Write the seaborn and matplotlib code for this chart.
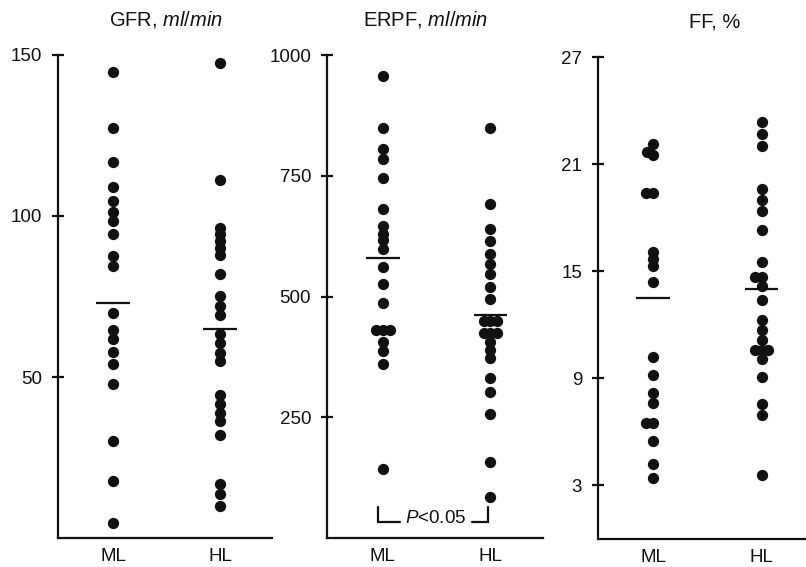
import numpy as np
import pandas as pd
import matplotlib
matplotlib.use("Agg")
import matplotlib.pyplot as plt
import seaborn as sns

# ---------------- data ----------------
groups = ["ML", "HL"]

gfr_ml = [144.7, 127.4, 116.8, 109.1, 104.7, 101.1, 98.3, 94.3, 87.6, 84.5,
          70.0, 64.7, 61.9, 57.9, 53.9, 47.7, 30.0, 17.6, 4.8]
gfr_hl = [147.4, 111.1, 96.4, 94.3, 92.2, 90.2, 87.9, 82.1, 75.2, 72.0, 69.2,
          63.3, 60.7, 57.5, 55.0, 44.3, 41.5, 38.9, 36.3, 31.9, 16.7, 13.6, 10.0]

erpf_ml = [956, 848, 806, 784, 745, 682, 645, 630, 616, 599, 561, 525, 486,
           431, 431, 431, 406, 388, 361, 143]
erpf_hl = [848, 692, 640, 615, 589, 568, 547, 519, 495, 450, 450, 450,
           425, 425, 425, 405, 390, 372, 332, 303, 257, 157, 85]

ff_ml = [22.1, 21.7, 21.5, 19.4, 19.4, 16.1, 15.7, 15.3, 14.4, 10.2, 9.2,
         8.2, 7.6, 6.5, 6.5, 5.5, 4.2, 3.4]
ff_hl = [23.35, 22.7, 22.0, 19.6, 19.0, 18.4, 17.3, 15.5, 14.7, 14.7, 14.2,
         13.4, 12.25, 11.7, 11.15, 10.6, 10.6, 10.6, 10.1, 9.1, 7.55, 6.95, 3.6]

gfr_means = [73.1, 64.9]
erpf_means = [579.5, 461.0]
ff_means = [13.5, 14.0]

gfr_ticks = [50, 100, 150]
erpf_ticks = [250, 500, 750, 1000]
ff_ticks = [3, 9, 15, 21, 27]

titles = ["GFR, $\\mathit{ml/min}$", "ERPF, $\\mathit{ml/min}$", "FF, %"]
p_label = "$\\mathit{P}$<0.05"

# ---------------- style ----------------
sns.set_theme(style="ticks")
plt.rcParams.update({
    "font.family": ["Liberation Sans", "DejaVu Sans"],
    "mathtext.fontset": "custom",
    "mathtext.rm": "Liberation Sans",
    "mathtext.it": "Liberation Sans:italic",
    "mathtext.bf": "Liberation Sans:bold",
    "text.color": "#111111",
    "xtick.color": "#111111",
    "ytick.color": "#111111",
    "axes.edgecolor": "#111111",
})
ink = "#111111"
fs = 13.5
tfs = 14.5

W, H = 806, 567
fig = plt.figure(figsize=(W / 100, H / 100), dpi=100)


def add_axes(l, r, t, b):
    return fig.add_axes([l / W, 1 - b / H, (r - l) / W, (b - t) / H])


ax1 = add_axes(58, 272, 55, 538)
ax2 = add_axes(327, 543, 55, 538)
ax3 = add_axes(598, 806, 57, 539)

panels = [
    (ax1, gfr_ml, gfr_hl, gfr_means, gfr_ticks, (-0.514, 1.486), 0.505),
    (ax2, erpf_ml, erpf_hl, erpf_means, erpf_ticks, (-0.52, 1.49), 0.458),
    (ax3, ff_ml, ff_hl, ff_means, ff_ticks, (-0.507, 1.409), 0.5625),
]

for (ax, ml, hl, means, ticks, xlim, tx), title in zip(panels, titles):
    df = pd.DataFrame({"group": ["ML"] * len(ml) + ["HL"] * len(hl),
                       "value": ml + hl})
    sns.swarmplot(data=df, x="group", y="value", order=groups, color=ink,
                  size=4.6, linewidth=0, ax=ax)
    pos = np.arange(len(groups))
    ax.hlines(means, pos - 0.155, pos + 0.155, color=ink, lw=1.6, zorder=3)
    ax.set_xlim(*xlim)
    ax.set_ylim(0, ticks[-1])
    ax.set_yticks(ticks)
    ax.set_xlabel("")
    ax.set_ylabel("")
    sns.despine(ax=ax)
    for s in ("left", "bottom"):
        ax.spines[s].set_linewidth(1.6)
        ax.spines[s].set_color(ink)
    ax.tick_params(axis="y", direction="inout", length=9, width=1.6,
                   pad=7, labelsize=fs)
    ax.tick_params(axis="x", length=0, pad=7, labelsize=fs)
    ax.text(tx, 1.062, title, transform=ax.transAxes, ha="center",
            va="baseline", fontsize=tfs)

# P < 0.05 bracket in ERPF panel
ax2.plot([-0.045, -0.045, 0.16], [65, 34, 34], color=ink, lw=1.6,
         solid_joinstyle="miter")
ax2.plot([0.83, 0.98, 0.98], [34, 34, 65], color=ink, lw=1.6,
         solid_joinstyle="miter")
ax2.text(0.49, 40, p_label, ha="center", va="center", fontsize=fs)

# fix swarm layout computed with small collision size, then enlarge dots
fig.canvas.draw()
for ax in (ax1, ax2, ax3):
    for coll in ax.collections:
        if "draw" in coll.__dict__:
            del coll.draw
            coll.set_sizes([66])

fig.savefig("out.png", dpi=100)
